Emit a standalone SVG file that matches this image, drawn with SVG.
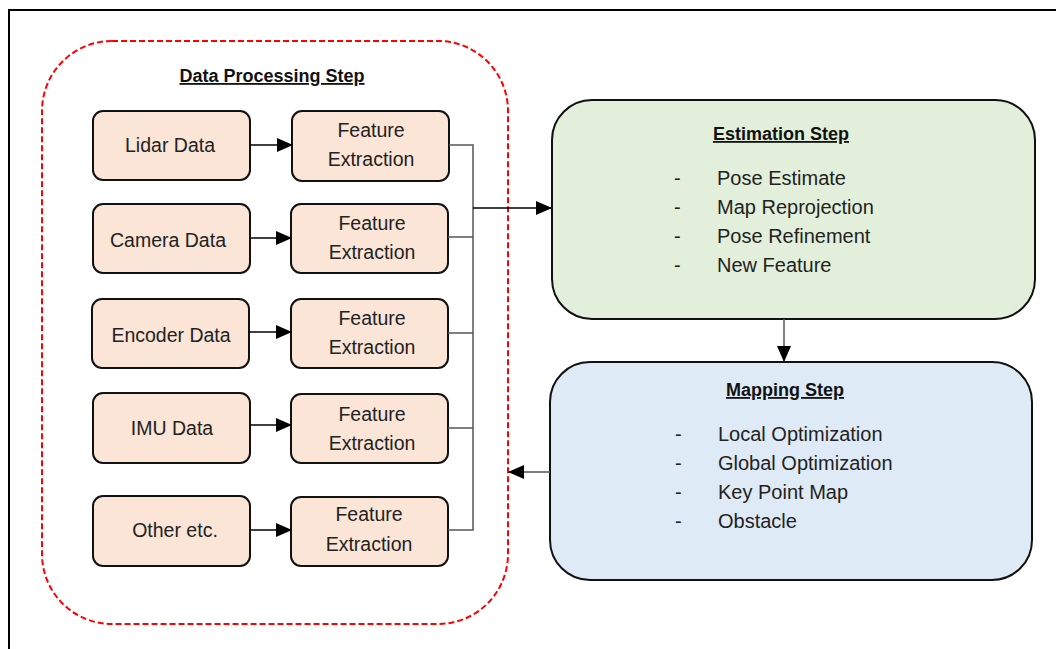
<svg xmlns="http://www.w3.org/2000/svg" width="1056" height="649" viewBox="0 0 1056 649">
<defs>
<marker id="ah2" markerWidth="16" markerHeight="14" refX="15" refY="7" orient="auto" markerUnits="userSpaceOnUse"><path d="M0,0 L16,7 L0,14 z" fill="#000"/></marker>
<style>
text{font-family:"Liberation Sans",Arial,sans-serif;fill:#222;}
.n rect{fill:#FBE5D6;stroke:#111;stroke-width:2;}
.lbl{font-size:19.5px;text-anchor:middle;}
.t{font-size:18px;font-weight:bold;text-anchor:middle;text-decoration:underline;fill:#111;}
.it{font-size:20px;}
.c{fill:none;stroke:#555;stroke-width:1.5;}
.ca{fill:none;stroke:#000;stroke-width:1.5;}
</style>
</defs>
<rect width="1056" height="649" fill="#fff"/>
<rect x="9" y="10" width="1060" height="660" fill="none" stroke="#000" stroke-width="2"/>
<g id="data-processing">
<rect x="42" y="41" width="466" height="583" rx="70" ry="70" fill="none" stroke="#f00" stroke-width="2" stroke-dasharray="6,3"/>
<text class="t" x="272" y="82">Data Processing Step</text>
</g>
<g id="lidar" class="n"><rect x="93" y="111" width="157" height="69" rx="10"/><text class="lbl" x="170" y="152">Lidar Data</text></g>
<g id="fe1" class="n"><rect x="292" y="111" width="157" height="70" rx="10"/><text class="lbl" x="371" y="137">Feature</text><text class="lbl" x="371" y="166">Extraction</text></g>
<g id="camera" class="n"><rect x="93" y="204" width="157" height="69" rx="10"/><text class="lbl" x="168" y="247">Camera Data</text></g>
<g id="fe2" class="n"><rect x="291" y="204" width="157" height="69" rx="10"/><text class="lbl" x="372" y="230">Feature</text><text class="lbl" x="372" y="259">Extraction</text></g>
<g id="encoder" class="n"><rect x="92" y="299" width="157" height="69" rx="10"/><text class="lbl" x="171" y="342">Encoder Data</text></g>
<g id="fe3" class="n"><rect x="291" y="299" width="157" height="69" rx="10"/><text class="lbl" x="372" y="325">Feature</text><text class="lbl" x="372" y="354">Extraction</text></g>
<g id="imu" class="n"><rect x="93" y="393" width="157" height="70" rx="10"/><text class="lbl" x="172" y="435">IMU Data</text></g>
<g id="fe4" class="n"><rect x="291" y="394" width="157" height="69" rx="10"/><text class="lbl" x="372" y="421">Feature</text><text class="lbl" x="372" y="450">Extraction</text></g>
<g id="other" class="n"><rect x="93" y="496" width="157" height="70" rx="10"/><text class="lbl" x="175" y="537">Other etc.</text></g>
<g id="fe5" class="n"><rect x="291" y="497" width="157" height="69" rx="10"/><text class="lbl" x="369" y="521">Feature</text><text class="lbl" x="369" y="551">Extraction</text></g>
<g id="estimation">
<rect x="552" y="100" width="483" height="219" rx="40" ry="40" fill="#E2EFDA" stroke="#111" stroke-width="2"/>
<text class="t" x="781" y="140">Estimation Step</text>
<g class="it"><text x="674" y="185">-</text><text x="717" y="185">Pose Estimate</text>
<text x="674" y="214">-</text><text x="717" y="214">Map Reprojection</text>
<text x="674" y="243">-</text><text x="717" y="243">Pose Refinement</text>
<text x="674" y="272">-</text><text x="717" y="272">New Feature</text></g>
</g>
<g id="mapping">
<rect x="550" y="362" width="482" height="218" rx="40" ry="40" fill="#DEEAF6" stroke="#111" stroke-width="2"/>
<text class="t" x="785" y="396">Mapping Step</text>
<g class="it"><text x="675" y="441">-</text><text x="718" y="441">Local Optimization</text>
<text x="675" y="470">-</text><text x="718" y="470">Global Optimization</text>
<text x="675" y="499">-</text><text x="718" y="499">Key Point Map</text>
<text x="675" y="528">-</text><text x="718" y="528">Obstacle</text></g>
</g>
<g id="connectors">
<line class="ca" x1="250" y1="145" x2="292" y2="145" marker-end="url(#ah2)"/>
<line class="ca" x1="250" y1="238" x2="291" y2="238" marker-end="url(#ah2)"/>
<line class="ca" x1="249" y1="332" x2="291" y2="332" marker-end="url(#ah2)"/>
<line class="ca" x1="250" y1="425" x2="291" y2="425" marker-end="url(#ah2)"/>
<line class="ca" x1="250" y1="530" x2="291" y2="530" marker-end="url(#ah2)"/>
<polyline class="c" points="449,145 473,145 473,530 448,530"/>
<line class="c" x1="448" y1="237" x2="473" y2="237"/>
<line class="c" x1="448" y1="333" x2="473" y2="333"/>
<line class="c" x1="448" y1="428" x2="473" y2="428"/>
<line class="ca" x1="473" y1="208" x2="551" y2="208" marker-end="url(#ah2)"/>
<line class="c" x1="784" y1="319" x2="784" y2="361" marker-end="url(#ah2)"/>
<line class="c" x1="550" y1="472" x2="509" y2="472" marker-end="url(#ah2)"/>
</g>
</svg>
